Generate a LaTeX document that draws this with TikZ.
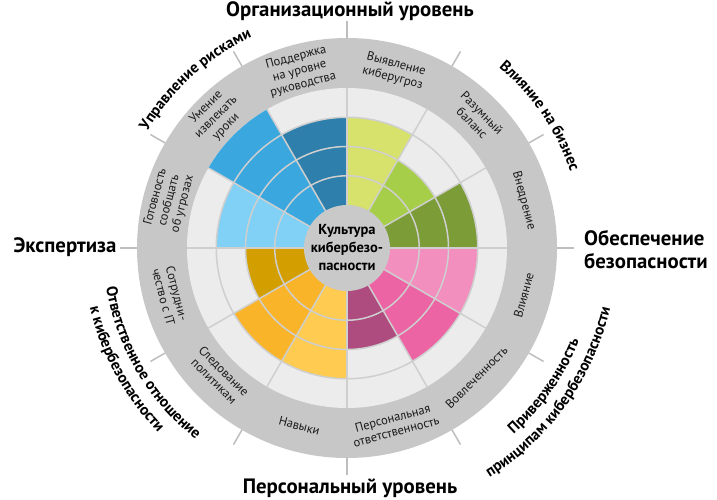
\documentclass[tikz,border=0pt]{standalone}
\usepackage{fontspec}
\setmainfont{PT Sans}
\usetikzlibrary{decorations.text}
\definecolor{ringgray}{HTML}{C7C7C7}
\definecolor{discgray}{HTML}{ECECEC}
\definecolor{centergray}{HTML}{C9C9C9}
\definecolor{gridgray}{HTML}{CFCFCF}
\definecolor{tickgray}{HTML}{BEBEBE}
\definecolor{labelink}{HTML}{1A1A1A}
\definecolor{s0}{HTML}{7B9C37}
\definecolor{s1}{HTML}{A6CE48}
\definecolor{s2}{HTML}{D6E26B}
\definecolor{s3}{HTML}{2E7FAB}
\definecolor{s4}{HTML}{3BA7DF}
\definecolor{s5}{HTML}{80D1F5}
\definecolor{s6}{HTML}{D39E00}
\definecolor{s7}{HTML}{F9B42A}
\definecolor{s8}{HTML}{FFCB50}
\definecolor{s9}{HTML}{AE4B7F}
\definecolor{s10}{HTML}{EC64A4}
\definecolor{s11}{HTML}{F28FBE}
\newcommand\curvefont{\fontsize{15.5}{18}\selectfont\bfseries}
\tikzset{
  gridline/.style={draw=gridgray, line width=1.5pt},
  tickline/.style={draw=tickgray, line width=1.5pt},
  inlabel/.style={align=center, inner sep=0pt, text=labelink, font=\fontsize{12.5}{14}\selectfont},
  outlabel/.style={align=center, inner sep=0pt, text=black, font=\fontsize{20.8}{23}\selectfont\bfseries},
  curvelabel/.style={decorate, decoration={text along path, text align=center, text={|\curvefont|#1}}}
}
\begin{document}
\begin{tikzpicture}[x=1pt,y=1pt]
\useasboundingbox (-347,-251) rectangle (370,248);
\fill[white] (-347,-251) rectangle (370,248);
\fill[ringgray] (0,0) circle[radius=210];
\fill[discgray] (0,0) circle[radius=160];
\foreach \i/\c/\l in {0/s0/3,1/s1/2,2/s2/3,3/s3/3,4/s4/4,5/s5/3,6/s6/2,7/s7/3,8/s8/3,9/s9/2,10/s10/3,11/s11/3}{
  \pgfmathsetmacro\a{\i*30}
  \pgfmathsetmacro\b{\i*30+30}
  \pgfmathsetmacro\R{43+29.25*\l}
  \fill[\c] (0,0) -- (\a:\R) arc[start angle=\a, end angle=\b, radius=\R] -- cycle;
}
\foreach \r in {72.25,101.5,130.75}{\draw[gridline] (0,0) circle[radius=\r];}
\foreach \a in {0,30,...,330}{\draw[gridline] (\a:43) -- (\a:160);}
\foreach \a in {0,30,...,330}{\draw[tickline] (\a:210) -- (\a:227);}
\node[circle, fill=centergray, minimum size=86pt, inner sep=0pt, align=center,
      font=\fontsize{14.5}{18}\selectfont\bfseries] (core) at (0,0) {Культура\\кибербезо-\\пасности};
% inner labels
\node[inlabel, rotate=15]  (l3)  at (105:183) {Поддержка\\на уровне\\руководства};
\node[inlabel, rotate=-15] (l2)  at (75:183)  {Выявление\\киберугроз};
\node[inlabel, rotate=-45] (l1)  at (45:184)  {Разумный\\баланс};
\node[inlabel, rotate=-75] (l0)  at (15:183)  {Внедрение};
\node[inlabel, rotate=75]  (l11) at (-15:183) {Влияние};
\node[inlabel, rotate=45]  (l10) at (-45:183) {Вовлеченность};
\node[inlabel, rotate=15]  (l9)  at (-75:183) {Персональная\\ответственность};
\node[inlabel, rotate=-15] (l8)  at (-105:184) {Навыки};
\node[inlabel, rotate=-45] (l7)  at (-135:181) {Следование\\политикам};
\node[inlabel, rotate=-75] (l6)  at (-165:183) {Сотрудни-\\чество с IT};
\node[inlabel, rotate=75]  (l5)  at (165:184) {Готовность\\сообщать\\об угрозах};
\node[inlabel, rotate=45]  (l4)  at (135:185) {Умение\\извлекать\\уроки};
% outer straight labels
\node[outlabel] (org)  at (3,237)   {Организационный уровень};
\node[outlabel] (pers) at (3,-240)  {Персональный уровень};
\node[outlabel] (expr) at (-282,1)  {Экспертиза};
\node[outlabel, align=left, anchor=west] (obes) at (237,-1.5) {Обеспечение\\безопасности};
% outer curved labels
\path[curvelabel={Управление рисками}] (162:231) arc[start angle=162, end angle=102, radius=231];
\path[curvelabel={Влияние на бизнес}] (64.4:236) arc[start angle=64.4, end angle=4.4, radius=236];
\path[curvelabel={Приверженность}] (-65:250) arc[start angle=-65, end angle=-5, radius=250];
\path[curvelabel={принципам кибербезопасности}] (-75.5:270) arc[start angle=-75.5, end angle=4.5, radius=270];
\path[curvelabel={Ответственное отношение}] (180.5:244) arc[start angle=180.5, end angle=240.5, radius=244];
\path[curvelabel={к кибербезопасности}] (178.7:264) arc[start angle=178.7, end angle=238.7, radius=264];
\end{tikzpicture}
\end{document}
